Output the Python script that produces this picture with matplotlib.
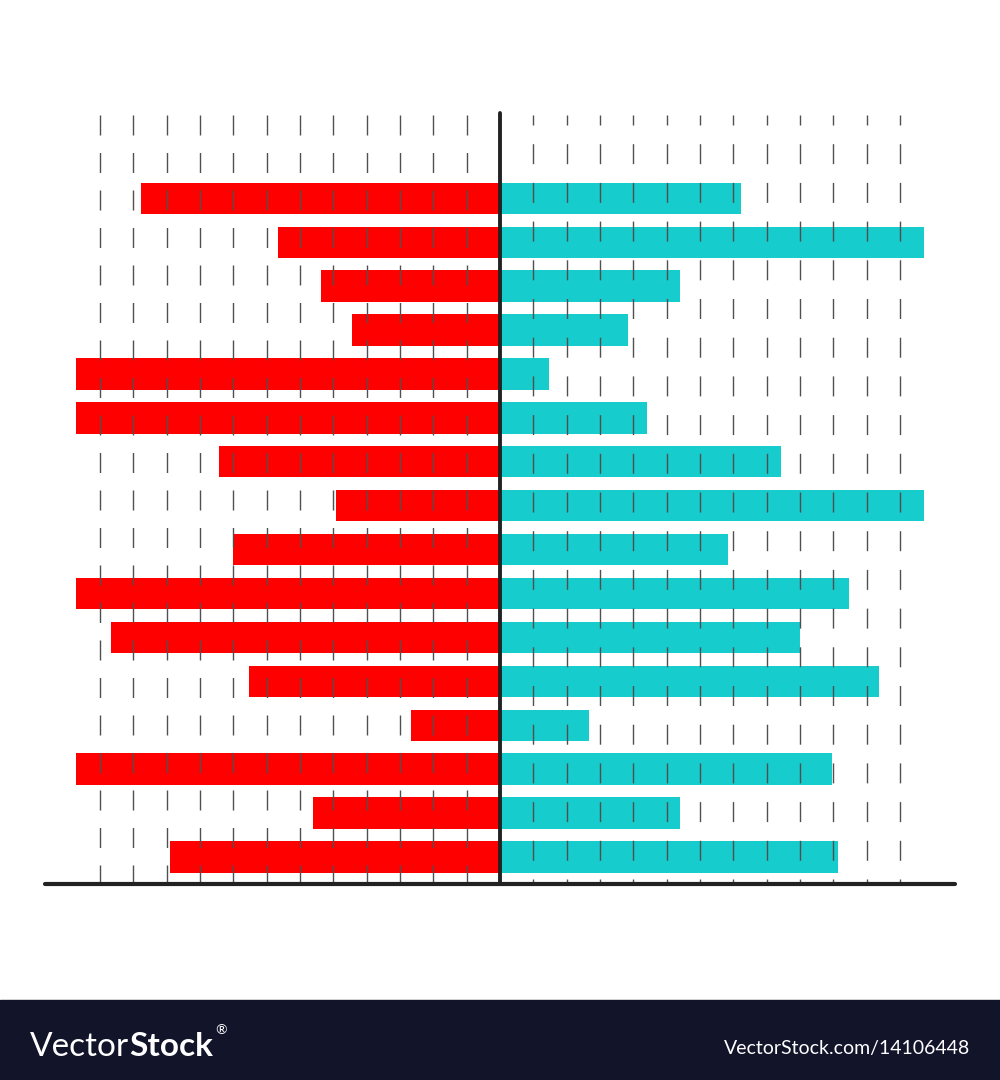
import matplotlib
matplotlib.use("Agg")
import matplotlib.pyplot as plt

# bar lengths in grid units (one dashed grid step = 1 unit), top row first
left_values = [10.78, 6.65, 5.38, 4.43, 12.72, 12.72, 8.43, 4.91,
               8.0, 12.72, 11.67, 7.54, 2.66, 12.72, 5.62, 9.89]
right_values = [7.22, 12.72, 5.4, 3.83, 1.48, 4.4, 8.43, 12.72,
                6.84, 10.47, 9.0, 11.36, 2.66, 9.96, 5.39, 10.14]
grid_steps = list(range(1, 13))

RED = '#FF0000'
CYAN = '#16CCCC'
GRID = '#505050'
DARK = '#222222'
BAND = '#12142A'

plt.rcParams['lines.scale_dashes'] = False

fig = plt.figure(figsize=(10, 10.8), dpi=100)
ax = fig.add_axes([0, 0, 1, 1])
ax.set_xlim(-15, 15)
ax.set_ylim(20.08, -4.517)
ax.axis('off')

rows = list(range(len(left_values)))
ax.barh(rows, [-v for v in left_values], height=0.713, color=RED, zorder=2)
ax.barh(rows, right_values, height=0.713, color=CYAN, zorder=2)

# dashed vertical grid, drawn over the bars
y_top, y_bot = -1.897, 15.58
px = 0.72  # points per pixel at 100 dpi
for s in grid_steps:
    ax.plot([-s, -s], [y_top, y_bot], color=GRID, lw=1.0, zorder=3,
            linestyle=(0, (20 * px, 17.5 * px)))
    ax.plot([s, s], [y_top, y_bot], color=GRID, lw=1.0, zorder=3,
            linestyle=(10 * px, (20 * px, 18.7 * px)))

# center line and base axis
ax.plot([0, 0], [-1.943, 15.61], color=DARK, lw=2.8, zorder=4,
        solid_capstyle='round')
ax.plot([-13.65, 13.65], [15.61, 15.61], color=DARK, lw=3.0, zorder=4,
        solid_capstyle='round')

# watermark band
fig.patches.append(plt.Rectangle((0, 0), 1, 80 / 1080, transform=fig.transFigure,
                                 color=BAND, zorder=0))
t = fig.text(30 / 1000, 24 / 1080, 'Vector', color='white', fontsize=24,
             family='Lato', fontweight='normal', va='baseline')
fig.canvas.draw()
bb = t.get_window_extent()
t2 = fig.text(bb.x1 / 1000, 24 / 1080, 'Stock', color='white', fontsize=24,
              family='Lato', fontweight='bold', va='baseline')
fig.canvas.draw()
bb2 = t2.get_window_extent()
fig.text(bb2.x1 / 1000 + 0.002, 46 / 1080, '®', color='white', fontsize=10,
         family='Lato', va='baseline')
fig.text(970 / 1000, 26 / 1080, 'VectorStock.com/14106448', color='white',
         fontsize=14, family='Lato', ha='right', va='baseline')

fig.savefig('out.png', dpi=100, facecolor='white')
